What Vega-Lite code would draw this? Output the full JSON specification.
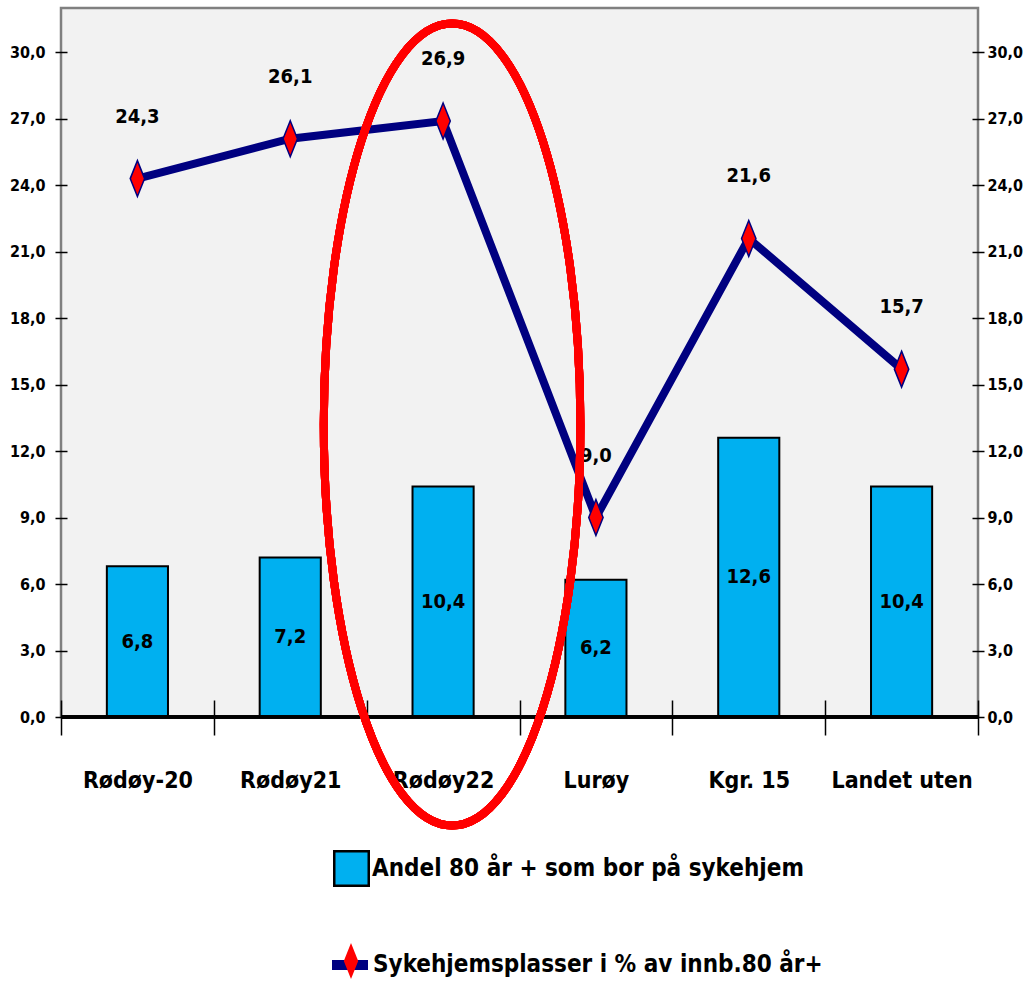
{
  "$schema": "https://vega.github.io/schema/vega-lite/v6.json",
  "width": 917,
  "height": 709,
  "autosize": {"type": "none"},
  "padding": {"left": 61, "top": 8, "right": 47, "bottom": 276},
  "background": "white",
  "data": {
    "values": [
      {"kat": "Rødøy-20", "andel": 6.8, "plass": 24.3},
      {"kat": "Rødøy21", "andel": 7.2, "plass": 26.1},
      {"kat": "Rødøy22", "andel": 10.4, "plass": 26.9},
      {"kat": "Lurøy", "andel": 6.2, "plass": 9.0},
      {"kat": "Kgr. 15", "andel": 12.6, "plass": 21.6},
      {"kat": "Landet uten", "andel": 10.4, "plass": 15.7}
    ]
  },
  "resolve": {"scale": {"y": "independent"}},
  "layer": [
    {
      "mark": {"type": "bar", "width": {"band": 0.4}, "stroke": "black", "strokeWidth": 2},
      "encoding": {
        "x": {
          "field": "kat", "type": "nominal", "sort": null, "title": null,
          "scale": {"paddingInner": 0, "paddingOuter": 0},
          "axis": {
            "orient": "bottom", "offset": -17, "tickSize": 35, "domain": false,
            "tickBand": "extent", "tickColor": "black", "tickWidth": 1.5,
            "labelAngle": 0, "labelPadding": 34, "labelFontSize": 23,
            "labelFont": "DejaVu Sans Condensed, sans-serif",
            "labelFontWeight": "bold", "labelColor": "black", "labelLimit": 300
          }
        },
        "y": {
          "field": "andel", "type": "quantitative", "title": null,
          "scale": {"domain": [0, 32], "nice": false},
          "axis": {
            "orient": "left", "offset": -6, "tickSize": 12, "domain": false, "grid": false,
            "values": [0, 3, 6, 9, 12, 15, 18, 21, 24, 27, 30], "format": ".1f",
            "tickColor": "black", "tickWidth": 1.5, "labelPadding": 10,
            "labelFontSize": 16, "labelFontWeight": "bold", "labelColor": "black",
            "labelFont": "DejaVu Sans Condensed, sans-serif"
          }
        },
        "fill": {
          "datum": "Andel 80 år + som bor på sykehjem",
          "scale": {"range": ["#00b0f0"]},
          "legend": {
            "orient": "none", "legendX": 272, "legendY": 842, "title": null, "padding": 0,
            "symbolType": "square", "symbolSize": 1190, "symbolStrokeColor": "black", "symbolStrokeWidth": 2.5,
            "labelFontSize": 24, "labelFontWeight": "bold", "labelColor": "black", "labelLimit": 800, "labelOffset": 2,
            "labelFont": "DejaVu Sans Condensed, sans-serif"
          }
        }
      }
    },
    {
      "mark": {"type": "text", "fontSize": 20, "fontWeight": "bold", "color": "black", "baseline": "middle",
               "font": "DejaVu Sans Condensed, sans-serif"},
      "encoding": {
        "x": {"field": "kat", "type": "nominal", "sort": null},
        "y": {"field": "andel", "type": "quantitative", "scale": {"domain": [0, 64], "nice": false}, "axis": null},
        "text": {"field": "andel", "type": "quantitative", "format": ".1f"}
      }
    },
    {
      "mark": {"type": "rule", "color": "black", "strokeWidth": 3},
      "encoding": {
        "y": {"datum": 0, "type": "quantitative", "scale": {"domain": [0, 32], "nice": false}, "axis": null}
      }
    },
    {
      "mark": {"type": "line", "strokeWidth": 8},
      "encoding": {
        "x": {"field": "kat", "type": "nominal", "sort": null},
        "y": {
          "field": "plass", "type": "quantitative", "title": null,
          "scale": {"domain": [0, 32], "nice": false},
          "axis": {
            "orient": "right", "offset": -6, "tickSize": 12, "domain": false, "grid": false,
            "values": [0, 3, 6, 9, 12, 15, 18, 21, 24, 27, 30], "format": ".1f",
            "tickColor": "black", "tickWidth": 1.5, "labelPadding": 3,
            "labelFontSize": 16, "labelFontWeight": "bold", "labelColor": "black",
            "labelFont": "DejaVu Sans Condensed, sans-serif"
          }
        },
        "stroke": {
          "datum": "Sykehjemsplasser i % av innb.80 år+",
          "scale": {"range": ["#000080"]},
          "legend": {
            "orient": "none", "legendX": 266, "legendY": 934, "title": null, "padding": 0,
            "symbolType": "stroke", "symbolSize": 1296, "symbolStrokeWidth": 10,
            "labelFontSize": 24, "labelFontWeight": "bold", "labelColor": "black", "labelLimit": 800, "labelOffset": 0,
            "labelFont": "DejaVu Sans Condensed, sans-serif"
          }
        }
      }
    },
    {
      "mark": {"type": "point", "filled": true, "fill": "#ff0000", "stroke": "#000080", "strokeWidth": 1.5, "opacity": 1, "size": 1296},
      "encoding": {
        "x": {"field": "kat", "type": "nominal", "sort": null},
        "y": {"field": "plass", "type": "quantitative", "scale": {"domain": [0, 32], "nice": false}, "axis": null},
        "shape": {
          "datum": " ",
          "scale": {"range": ["M0,-1L0.4,0L0,1L-0.4,0Z"]},
          "legend": {
            "orient": "none", "legendX": 271, "legendY": 934, "title": null, "padding": 0, "zindex": 2,
            "symbolSize": 1296, "symbolFillColor": "#ff0000", "symbolStrokeColor": "#000080", "symbolStrokeWidth": 1.5,
            "labelFontSize": 24, "labelOpacity": 0, "labelLimit": 800, "labelOffset": 4
          }
        }
      }
    },
    {
      "mark": {"type": "text", "fontSize": 20, "fontWeight": "bold", "color": "black", "baseline": "alphabetic", "dy": -56,
               "font": "DejaVu Sans Condensed, sans-serif"},
      "encoding": {
        "x": {"field": "kat", "type": "nominal", "sort": null},
        "y": {"field": "plass", "type": "quantitative", "scale": {"domain": [0, 32], "nice": false}, "axis": null},
        "text": {"field": "plass", "type": "quantitative", "format": ".1f"}
      }
    },
    {
      "mark": {"type": "point", "shape": "M0,-1A0.32,1 0 1,1 0,1A0.32,1 0 1,1 0,-1Z", "filled": false,
               "stroke": "#ff0000", "strokeWidth": 8, "opacity": 1, "size": 643204, "xOffset": 9},
      "encoding": {
        "x": {"datum": "Rødøy22", "type": "nominal"},
        "y": {"datum": 13.2, "type": "quantitative", "scale": {"domain": [0, 32], "nice": false}, "axis": null}
      }
    }
  ],
  "config": {
    "locale": {"number": {"decimal": ",", "thousands": " ", "grouping": [3], "currency": ["", " kr"]}},
    "view": {"fill": "#f2f2f2", "stroke": "#808080", "strokeWidth": 2.5},
    "font": "DejaVu Sans Condensed, sans-serif"
  }
}
